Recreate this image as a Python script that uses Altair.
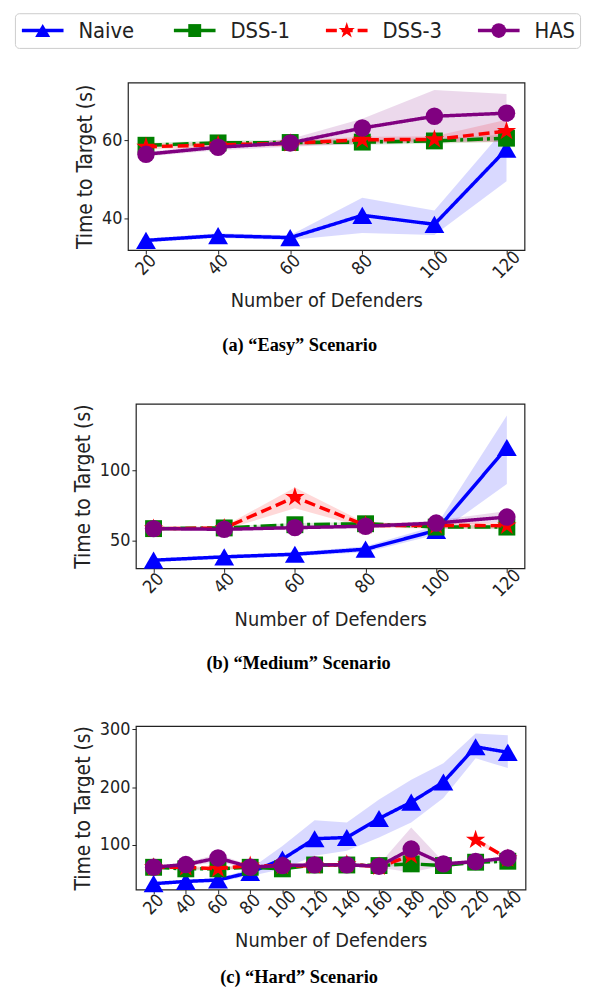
import altair as alt
import pandas as pd

STAR = ("M0,-1L0.2245,-0.309L0.9511,-0.309L0.3633,0.118L0.5878,0.809L0,0.382"
        "L-0.5878,0.809L-0.3633,0.118L-0.9511,-0.309L-0.2245,-0.309Z")

SERIES = ["Naive", "DSS-1", "DSS-3", "HAS"]
COLORS = ["#0000ff", "#008000", "#ff0000", "#800080"]
SHAPES = ["triangle-up", "square", STAR, "circle"]
SIZES = [400, 290, 420, 310]
DASHES = [[1, 0], [16, 4, 3, 4], [11, 5], [1, 0]]
LEG_IDX = [0, 1, 2, 3]
LEG_SIZES = [230, 170, 300, 220]

X_AB = [20, 40, 60, 80, 100, 120]
X_C = [20, 40, 60, 80, 100, 120, 140, 160, 180, 200, 220, 240]

# Panel (a) "Easy"
A_NAIVE = [34.4, 35.6, 35.1, 40.8, 38.5, 57.7]
A_NAIVE_LO = [33.9, 35.0, 34.5, 36.3, 35.8, 49.5]
A_NAIVE_HI = [34.9, 36.2, 35.7, 45.3, 42.0, 63.5]
A_DSS1 = [58.7, 59.3, 59.4, 59.5, 59.8, 60.5]
A_DSS1_LO = [58.1, 58.7, 58.8, 58.8, 59.1, 59.6]
A_DSS1_HI = [59.3, 59.9, 60.0, 60.2, 60.5, 61.4]
A_DSS3 = [58.3, 58.8, 59.2, 60.1, 60.2, 62.3]
A_DSS3_LO = [57.6, 58.1, 58.5, 59.3, 59.4, 59.5]
A_DSS3_HI = [59.0, 59.5, 59.9, 60.9, 61.0, 65.2]
A_HAS = [56.4, 58.2, 59.3, 63.1, 66.1, 66.9]
A_HAS_LO = [55.8, 57.4, 58.3, 59.0, 59.5, 59.7]
A_HAS_HI = [57.0, 59.0, 60.3, 65.5, 72.8, 71.8]

# Panel (b) "Medium"
B_NAIVE = [35.7, 38.1, 40.0, 43.6, 57.1, 116.7]
B_NAIVE_LO = [34.5, 36.8, 38.5, 41.5, 54.0, 90.5]
B_NAIVE_HI = [36.9, 39.4, 41.5, 45.7, 60.5, 139.8]
B_DSS1 = [58.4, 58.9, 61.2, 61.9, 59.5, 59.5]
B_DSS1_LO = [57.4, 57.9, 60.0, 60.7, 58.3, 58.0]
B_DSS1_HI = [59.4, 59.9, 62.4, 63.1, 60.7, 61.0]
B_DSS3 = [58.4, 58.8, 81.0, 60.7, 60.7, 60.5]
B_DSS3_LO = [57.2, 57.5, 73.0, 59.0, 58.5, 58.5]
B_DSS3_HI = [59.6, 60.1, 88.0, 62.4, 62.9, 62.5]
B_HAS = [58.4, 57.9, 59.1, 60.1, 62.4, 66.7]
B_HAS_LO = [57.4, 56.9, 58.0, 59.0, 60.6, 63.1]
B_HAS_HI = [59.4, 58.9, 60.2, 61.2, 64.2, 71.0]

# Panel (c) "Hard"
C_NAIVE = [32.6, 36.5, 39.0, 52.0, 75.0, 110.5, 112.6, 145.5, 173.8, 208.7, 269.8, 260.2]
C_NAIVE_LO = [30.5, 34.0, 36.0, 46.0, 58.0, 81.0, 89.7, 112.6, 138.4, 181.0, 249.7, 232.8]
C_NAIVE_HI = [34.5, 39.0, 42.0, 58.0, 98.0, 142.4, 138.4, 178.4, 212.7, 241.3, 292.8, 289.9]
C_DSS1 = [61.0, 58.3, 58.3, 61.0, 58.3, 65.0, 65.0, 64.0, 66.9, 64.0, 69.8, 71.5]
C_DSS1_LO = [58.5, 55.8, 55.8, 58.5, 55.8, 62.5, 62.5, 61.5, 64.0, 61.5, 67.0, 69.0]
C_DSS1_HI = [63.5, 60.8, 60.8, 63.5, 60.8, 67.5, 67.5, 66.5, 69.8, 66.5, 72.6, 74.0]
C_DSS3 = [61.0, 61.0, 58.3, 64.0, 63.0, 64.0, 66.0, 62.0, 81.2, None, 108.6, 76.0]
C_DSS3_LO = [58.5, 58.5, 55.8, 61.0, 60.5, 61.5, 63.5, 59.5, 76.0, None, 104.0, 73.0]
C_DSS3_HI = [63.5, 63.5, 60.8, 67.0, 65.5, 66.5, 68.5, 64.5, 86.0, None, 113.0, 79.0]
C_HAS = [61.2, 65.7, 77.2, 61.2, 64.0, 65.2, 65.2, 62.9, 92.6, 66.9, 70.9, 77.2]
C_HAS_LO = [58.5, 62.5, 70.0, 58.5, 61.0, 62.0, 62.0, 60.0, 52.6, 63.5, 67.5, 73.5]
C_HAS_HI = [64.0, 69.0, 84.0, 64.0, 67.0, 68.5, 68.5, 66.0, 129.8, 70.5, 74.5, 81.0]

FONT = "DejaVu Sans Condensed, DejaVu Sans"
CAP_FONT = "Liberation Serif"
INK = "#222222"


def panel_frame(xs, vals, los, his):
    rows = []
    for s, v, lo, hi in zip(SERIES, vals, los, his):
        seg = 0
        for x, y, l, h in zip(xs, v, lo, hi):
            if y is None:
                seg += 1
                continue
            rows.append(dict(x=x, series=s, y=y, lo=l, hi=h, seg=seg))
    return pd.DataFrame(rows)


def panel(df, xs, xdom, ydom, yticks, w, h, caption, cap_offset):
    xaxis = alt.Axis(values=xs, format="d", labelAngle=-45, labelAlign="center",
                     labelBaseline="middle", labelPadding=11, labelOverlap=False,
                     title="Number of Defenders", titlePadding=9)
    yaxis = alt.Axis(values=yticks, title="Time to Target (s)", titlePadding=6,
                     labelPadding=2, titleFontSize=21)
    xs_ = alt.Scale(domain=xdom, nice=False, zero=False)
    ys_ = alt.Scale(domain=ydom, nice=False, zero=False)
    xenc = alt.X("x:Q", scale=xs_, axis=xaxis)
    yenc = alt.Y("y:Q", scale=ys_, axis=yaxis)
    layers = []
    for s, c in zip(SERIES, COLORS):
        layers.append(
            alt.Chart(df).transform_filter(alt.datum.series == s)
            .mark_area(color=c, opacity=0.15)
            .encode(x=xenc, y=alt.Y("lo:Q", scale=ys_, axis=yaxis, stack=None),
                    y2="hi:Q", detail="seg:N")
        )
    for s, c, sh, sz, d in zip(SERIES, COLORS, SHAPES, SIZES, DASHES):
        base = alt.Chart(df).transform_filter(alt.datum.series == s)
        layers.append(base.mark_line(color=c, strokeWidth=3.5, strokeDash=d)
                      .encode(x=xenc, y=yenc, detail="seg:N"))
        layers.append(base.mark_point(shape=sh, filled=True, color=c, size=sz, opacity=1)
                      .encode(x=xenc, y=yenc))
    return alt.layer(*layers).properties(
        width=w, height=h,
        title=alt.TitleParams(text=caption, orient="bottom", anchor="middle",
                              frame="bounds", font=CAP_FONT, fontSize=18.5,
                              fontWeight="bold", color="#000000", offset=cap_offset),
    )


df_a = panel_frame(X_AB, [A_NAIVE, A_DSS1, A_DSS3, A_HAS],
                   [A_NAIVE_LO, A_DSS1_LO, A_DSS3_LO, A_HAS_LO],
                   [A_NAIVE_HI, A_DSS1_HI, A_DSS3_HI, A_HAS_HI])
df_b = panel_frame(X_AB, [B_NAIVE, B_DSS1, B_DSS3, B_HAS],
                   [B_NAIVE_LO, B_DSS1_LO, B_DSS3_LO, B_HAS_LO],
                   [B_NAIVE_HI, B_DSS1_HI, B_DSS3_HI, B_HAS_HI])
df_c = panel_frame(X_C, [C_NAIVE, C_DSS1, C_DSS3, C_HAS],
                   [C_NAIVE_LO, C_DSS1_LO, C_DSS3_LO, C_HAS_LO],
                   [C_NAIVE_HI, C_DSS1_HI, C_DSS3_HI, C_HAS_HI])

pa = panel(df_a, X_AB, [15, 125], [31.9, 74.7], [40, 60], 400, 169,
           "(a) \u201cEasy\u201d Scenario", 25)
pb = panel(df_b, X_AB, [15, 125], [29.8, 148.1], [50, 100], 392, 166,
           "(b) \u201cMedium\u201d Scenario", 25)
pc = panel(df_c, X_C, [9, 251], [22.3, 305.7], [100, 200, 300], 393, 165,
           "(c) \u201cHard\u201d Scenario", 18)

# Legend row
leg_df = pd.DataFrame({"series": SERIES, "idx": LEG_IDX, "lsize": LEG_SIZES})
lx = alt.X("idx:Q", scale=alt.Scale(domain=[0, 3], range=[28, 488], nice=False, zero=False),
           axis=None)
lcolor = alt.Color("series:N", scale=alt.Scale(domain=SERIES, range=COLORS), legend=None)
leg_rule = alt.Chart(leg_df).mark_rule(strokeWidth=3.5, xOffset=-21, x2Offset=21).encode(
    x=lx, x2="idx", y=alt.value(17.5), color=lcolor,
    strokeDash=alt.StrokeDash("series:N", scale=alt.Scale(domain=SERIES, range=DASHES), legend=None),
)
leg_pts = alt.Chart(leg_df).mark_point(filled=True, opacity=1).encode(
    x=lx, y=alt.value(17.5), color=lcolor,
    shape=alt.Shape("series:N", scale=alt.Scale(domain=SERIES, range=SHAPES), legend=None),
    size=alt.Size("lsize:Q", scale=None, legend=None),
)
leg_txt = alt.Chart(leg_df).mark_text(align="left", baseline="middle", dx=36, fontSize=22,
                                      font=FONT, color=INK).encode(
    x=lx, y=alt.value(17.5), text="series:N")
legend_chart = alt.layer(leg_rule, leg_pts, leg_txt).properties(
    width=570, height=35,
    view=alt.ViewBackground(stroke="#cccccc", strokeWidth=1, cornerRadius=4),
)


def spacer():
    return alt.Chart(leg_df).mark_point(opacity=0).encode(
        x=alt.value(0), y=alt.value(0)
    ).properties(width=1, height=1, view=alt.ViewBackground(strokeOpacity=0))


rows = alt.concat(
    alt.hconcat(spacer(), pa, spacing=56),
    alt.hconcat(spacer(), pb, spacing=54),
    alt.hconcat(spacer(), pc, spacing=54),
    columns=1, spacing=46, align="none",
)

chart = alt.vconcat(legend_chart, rows, spacing=31).properties(
    padding={"left": 4, "top": 0, "right": 5, "bottom": 0}
).configure_axis(
    labelFont=FONT, titleFont=FONT, labelFontSize=18, titleFontSize=20,
    labelColor=INK, titleColor=INK, tickColor=INK, tickSize=4, domain=False,
    grid=False, titleFontWeight="normal",
).configure_view(stroke=INK, strokeWidth=1.2)

chart.save("out.html", embed_options={"renderer": "svg", "actions": False})
